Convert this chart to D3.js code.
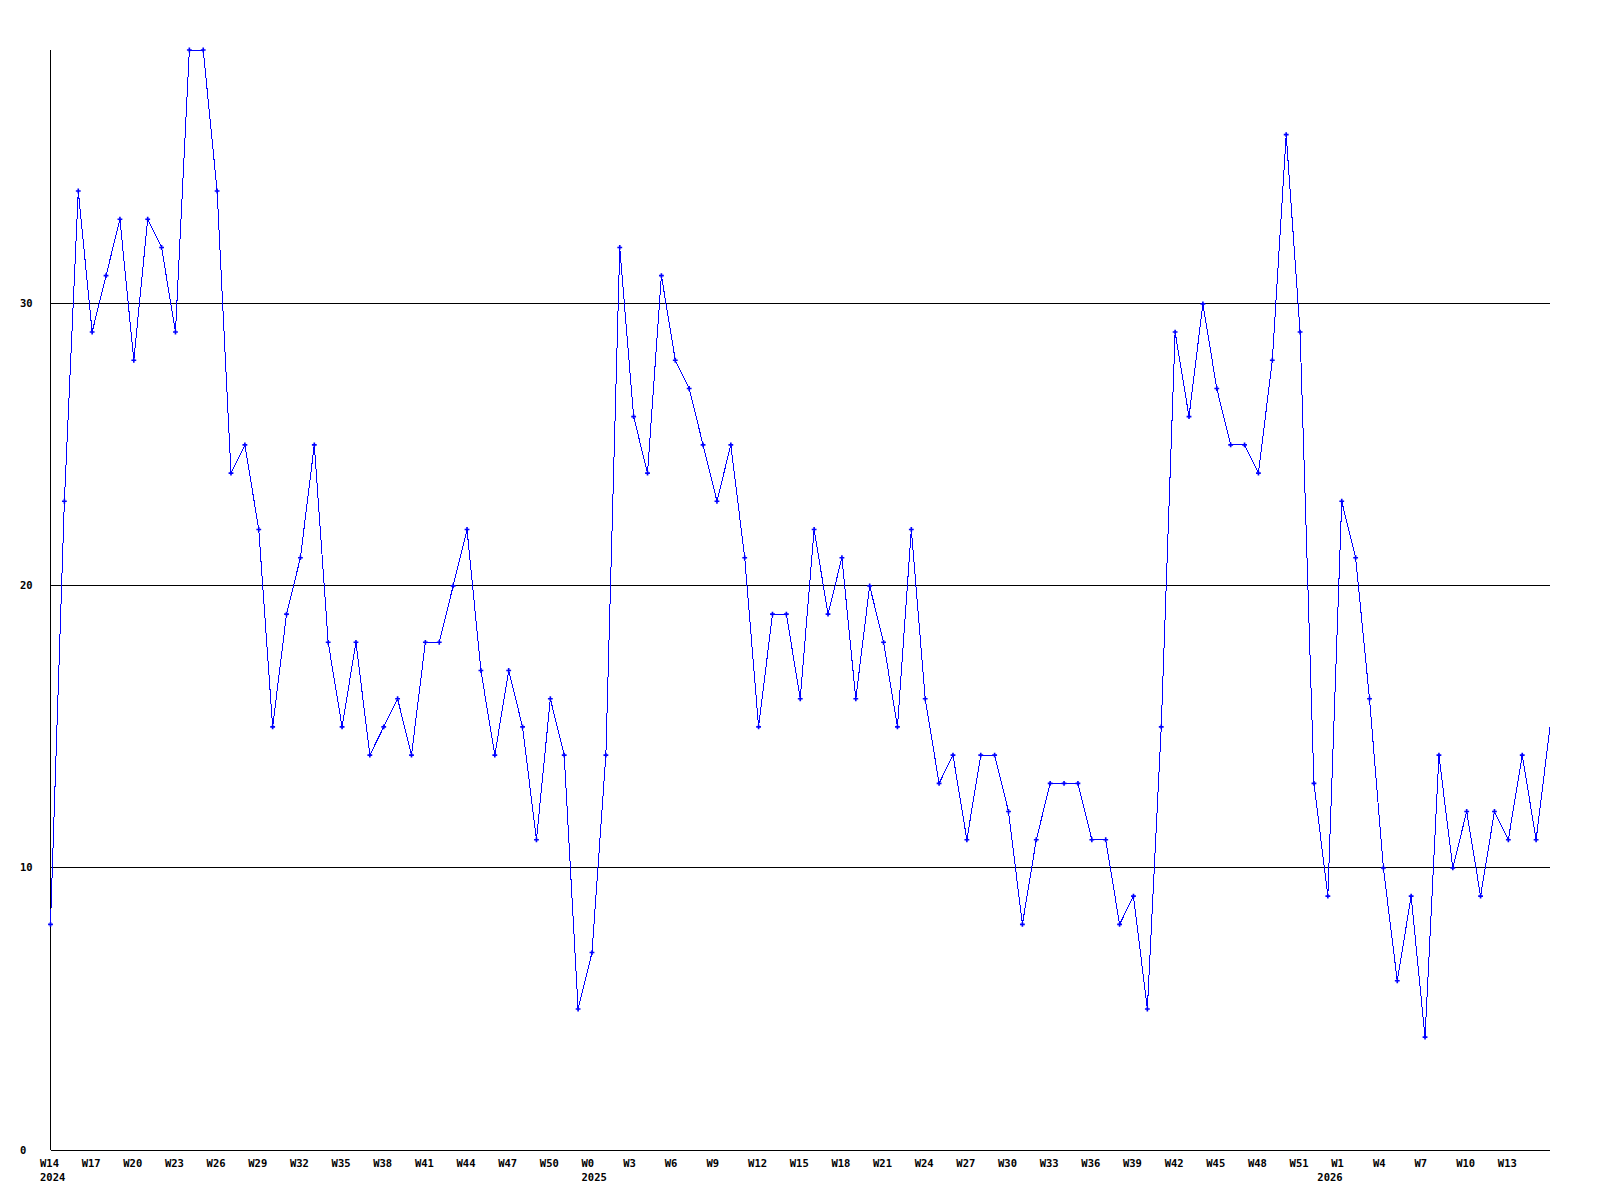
<!DOCTYPE html>
<html>
<head>
<meta charset="utf-8">
<script src="https://cdn.jsdelivr.net/npm/d3@7"></script>
<style>
  html, body { margin: 0; padding: 0; background: #fff; }
  svg { display: block; }
  text { font-family: "DejaVu Sans Mono", "Liberation Mono", monospace; font-weight: bold; font-size: 10.5px; fill: #000; }
</style>
</head>
<body>
<svg id="chart" width="1600" height="1200"></svg>
<script>
// Weekly values, 2024 W14 → 2026 W16
const values = [
  8, 23, 34, 29, 31, 33, 28, 33, 32, 29,
  39, 39, 34, 24, 25, 22, 15, 19, 21, 25,
  18, 15, 18, 14, 15, 16, 14, 18, 18, 20,
  22, 17, 14, 17, 15, 11, 16, 14, 5, 7,
  14, 32, 26, 24, 31, 28, 27, 25, 23, 25,
  21, 15, 19, 19, 16, 22, 19, 21, 16, 20,
  18, 15, 22, 16, 13, 14, 11, 14, 14, 12,
  8, 11, 13, 13, 13, 11, 11, 8, 9, 5,
  15, 29, 26, 30, 27, 25, 25, 24, 28, 36,
  29, 13, 9, 23, 21, 16, 10, 6, 9, 4,
  14, 10, 12, 9, 12, 11, 14, 11, 15
];

// x tick labels, one every 3 weeks
const tickLabels = [
  "W14","W17","W20","W23","W26","W29","W32","W35","W38","W41","W44","W47","W50",
  "W0","W3","W6","W9","W12","W15","W18","W21","W24","W27","W30","W33","W36","W39","W42","W45","W48","W51",
  "W1","W4","W7","W10","W13"
];
const tickEvery = 3;

// year labels and the week index where each year starts
const yearLabels = ["2024", "2025", "2026"];
const yearStartIndex = [0, 39, 92];

// y axis tick values
const yTicks = [0, 10, 20, 30];
const yMax = 39;

(function () {
const svg = d3.select("#chart");
const mLeft = 50.5, mRight = 1550, mTop = 50, mBottom = 1150;

const x = d3.scaleLinear().domain([0, values.length - 1]).range([mLeft, mRight]);
const y = d3.scaleLinear().domain([0, yMax]).range([mBottom, mTop]);
const ry = v => Math.floor(y(v)) + 0.5;

// gridlines
svg.append("g").selectAll("line").data(yTicks.filter(d => d > 0)).join("line")
  .attr("x1", mLeft).attr("x2", mRight)
  .attr("y1", d => ry(d)).attr("y2", d => ry(d))
  .attr("stroke", "#000").attr("stroke-width", 1)
  .attr("shape-rendering", "crispEdges");

// axes lines
svg.append("line").attr("x1", mLeft).attr("x2", mLeft).attr("y1", y(yMax)).attr("y2", mBottom)
  .attr("stroke", "#000").attr("shape-rendering", "crispEdges");
svg.append("line").attr("x1", mLeft).attr("x2", mRight).attr("y1", mBottom + 0.5).attr("y2", mBottom + 0.5)
  .attr("stroke", "#000").attr("shape-rendering", "crispEdges");

// y labels
svg.append("g").selectAll("text").data(yTicks).join("text")
  .attr("x", 20).attr("y", d => ry(d)).attr("dy", "0.36em")
  .text(d => d);

// x labels
svg.append("g").selectAll("text").data(tickLabels).join("text")
  .attr("x", (d, i) => x(i * tickEvery) - 10.5)
  .attr("y", mBottom + 17)
  .text(d => d);

// year labels
svg.append("g").selectAll("text").data(yearLabels).join("text")
  .attr("x", (d, i) => x(yearStartIndex[i]) - 10.5)
  .attr("y", mBottom + 31)
  .text(d => d);

// line
svg.append("path").datum(values)
  .attr("fill", "none").attr("stroke", "#0000ff").attr("stroke-width", 1)
  .attr("shape-rendering", "crispEdges")
  .attr("d", d3.line().x((d, i) => x(i)).y(d => y(d)));

// markers
const cross = d3.symbol().type(d3.symbolCross).size(13);
svg.append("g").selectAll("path").data(values.slice(0, values.length - 1)).join("path")
  .attr("transform", (d, i) => `translate(${x(i)},${y(d)})`)
  .attr("d", cross)
  .attr("fill", "#0000ff");
})();
</script>
</body>
</html>
